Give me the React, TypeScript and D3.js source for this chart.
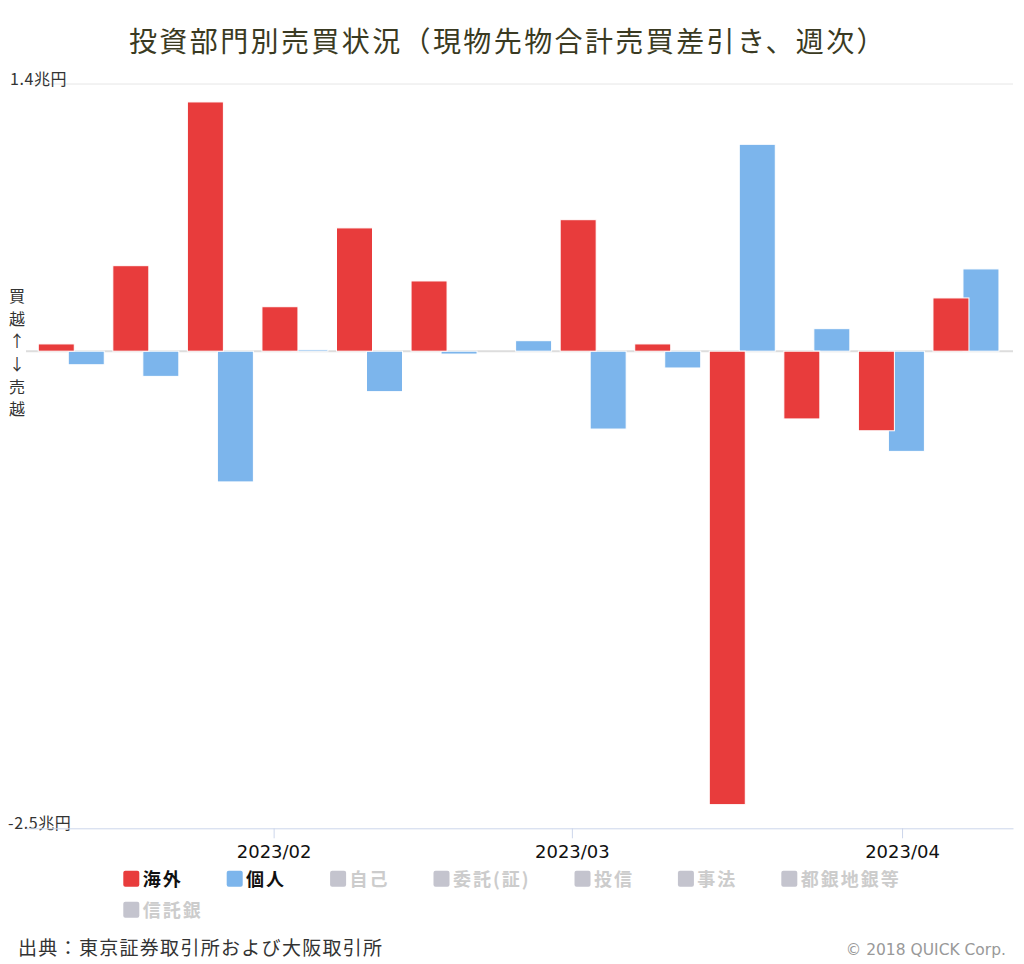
import React, { useRef, useEffect } from "react";
import * as d3 from "d3";

// 週次（金曜日）
const weeks = [
  "2023-01-13", "2023-01-20", "2023-01-27", "2023-02-03", "2023-02-10",
  "2023-02-17", "2023-02-24", "2023-03-03", "2023-03-10", "2023-03-17",
  "2023-03-24", "2023-03-31", "2023-04-07",
];
// 兆円
const kaigai = [0.038, 0.448, 1.306, 0.233, 0.646, 0.368, 0, 0.689, 0.038, -2.376, -0.355, -0.417, 0.279];
const kojin = [-0.071, -0.132, -0.685, 0.008, -0.212, -0.015, 0.055, -0.408, -0.088, 1.084, 0.118, -0.525, 0.431];

const seriesNames = ["個人", "海外"]; // 描画順（海外が上）
const legendNames = ["海外", "個人", "自己", "委託(証)", "投信", "事法", "都銀地銀等", "信託銀"];
const visibleSeries = ["海外", "個人"];
const seriesColors: Record<string, string> = { 海外: "#e83c3c", 個人: "#7cb5ec" };
const yTicks = [1.4, -2.5];
const xTicks = ["2023-02-01", "2023-03-01", "2023-04-01"];
const title = "投資部門別売買状況（現物先物合計売買差引き、週次）";
const yLabel = "買越↑↓売越";
const source = "出典：東京証券取引所および大阪取引所";
const credit = "© 2018 QUICK Corp.";

const JP = "'Noto Sans CJK JP', sans-serif";

const App = () => {
  const svgRef = useRef<SVGSVGElement>(null);

  useEffect(() => {
    document.body.style.margin = "0";
    const svg = d3.select(svgRef.current);
    svg.selectAll("*").remove();

    const width = 1024;
    const height = 964;
    const plot = { left: 26, right: 1013, top: 84, bottom: 828.3 };
    const parse = d3.timeParse("%Y-%m-%d");

    svg.attr("width", width).attr("height", height).style("display", "block");
    svg.append("rect").attr("width", width).attr("height", height).attr("fill", "#fff");

    const x = d3
      .scaleTime()
      .domain([new Date(2023, 0, 8, 18), new Date(2023, 3, 11, 10)])
      .range([plot.left, plot.right]);

    const y = d3.scaleLinear().domain([-2.5, 1.4]).range([plot.bottom, plot.top]);

    const offset = d3.scaleOrdinal<string, number>().domain(["海外", "個人"]).range([-33, -3]);
    const barWidth = 36;

    // title
    svg
      .append("text")
      .attr("x", 508)
      .attr("y", 52)
      .attr("text-anchor", "middle")
      .style("font-family", JP)
      .style("font-size", "28px")
      .style("letter-spacing", "2.4px")
      .attr("fill", "#3a3a22")
      .text(title);

    // grid + zero line
    svg
      .append("line")
      .attr("x1", plot.left)
      .attr("x2", plot.right)
      .attr("y1", y(1.4))
      .attr("y2", y(1.4))
      .attr("stroke", "#e6e6e6");
    svg
      .append("line")
      .attr("x1", plot.left)
      .attr("x2", plot.right)
      .attr("y1", y(0))
      .attr("y2", y(0))
      .attr("stroke", "#dddddd")
      .attr("stroke-width", 2);

    // y tick labels
    svg
      .selectAll(".ylab")
      .data(yTicks)
      .join("text")
      .attr("class", "ylab")
      .attr("x", (d) => (d < 0 ? 8 : 10))
      .attr("y", (d) => y(d) + 1)
      .style("font-family", JP)
      .style("font-size", "16px")
      .style("letter-spacing", "0.6px")
      .attr("fill", "#333")
      .text((d) => `${d}兆円`);

    // vertical y label
    svg
      .append("g")
      .selectAll("text")
      .data(yLabel.split(""))
      .join("text")
      .attr("x", 17)
      .attr("y", (d, i) => y(0) - 49 + i * 22.6)
      .attr("text-anchor", "middle")
      .style("font-family", JP)
      .style("font-size", "16px")
      .attr("fill", "#333")
      .text((d) => d);

    // bars
    const values: Record<string, number[]> = { 海外: kaigai, 個人: kojin };
    seriesNames.forEach((name) => {
      svg
        .append("g")
        .selectAll("rect")
        .data(weeks.map((w, i) => ({ date: parse(w) as Date, v: values[name][i] })))
        .join("rect")
        .attr("x", (d) => x(d.date) + offset(name))
        .attr("y", (d) => y(Math.max(0, d.v)))
        .attr("width", barWidth)
        .attr("height", (d) => Math.abs(y(d.v) - y(0)))
        .attr("fill", seriesColors[name])
        .attr("stroke", "#fff")
        .attr("stroke-width", 1);
    });

    // x axis
    const xAxis = svg
      .append("g")
      .attr("transform", `translate(0,${plot.bottom})`)
      .call(
        d3
          .axisBottom(x)
          .tickValues(xTicks.map((t) => parse(t) as Date))
          .tickFormat(d3.timeFormat("%Y/%m") as any)
          .tickSize(10)
          .tickSizeOuter(0)
          .tickPadding(7)
      );
    xAxis.select(".domain").attr("stroke", "#ccd6eb");
    xAxis.selectAll(".tick line").attr("stroke", "#ccd6eb");
    xAxis
      .selectAll(".tick text")
      .style("font-family", "'DejaVu Sans', sans-serif")
      .style("font-size", "18px")
      .attr("fill", "#111");

    // legend
    const legend = svg.append("g");
    let lx = 123.3;
    let ly = 870.7;
    legendNames.forEach((name) => {
      const on = visibleSeries.includes(name);
      const item = legend.append("g");
      const t = item
        .append("text")
        .attr("x", lx + 19.4)
        .attr("y", ly + 15)
        .style("font-family", JP)
        .style("font-size", "18px")
        .style("font-weight", "bold")
        .style("letter-spacing", "2px")
        .attr("fill", on ? "#111" : "#cccccc")
        .text(name);
      const tw = (t.node() as SVGTextElement).getComputedTextLength();
      if (lx + 19.4 + tw > 910) {
        lx = 123.3;
        ly += 31;
        t.attr("x", lx + 19.4).attr("y", ly + 15);
      }
      item
        .append("rect")
        .attr("x", lx)
        .attr("y", ly)
        .attr("width", 16)
        .attr("height", 16)
        .attr("rx", 2)
        .attr("fill", on ? seriesColors[name] : "#c4c4ce");
      lx += 19.4 + tw + 44;
    });

    // source + credit
    svg
      .append("text")
      .attr("x", 18)
      .attr("y", 955)
      .style("font-family", JP)
      .style("font-size", "19px")
      .style("letter-spacing", "1.3px")
      .attr("fill", "#333")
      .text(source);
    svg
      .append("text")
      .attr("x", 1006)
      .attr("y", 955)
      .attr("text-anchor", "end")
      .style("font-family", "'DejaVu Sans', sans-serif")
      .style("font-size", "15.5px")
      .attr("fill", "#999")
      .text(credit);
  }, []);

  return (
    <div>
      <svg ref={svgRef}></svg>
    </div>
  );
};

export default App;
